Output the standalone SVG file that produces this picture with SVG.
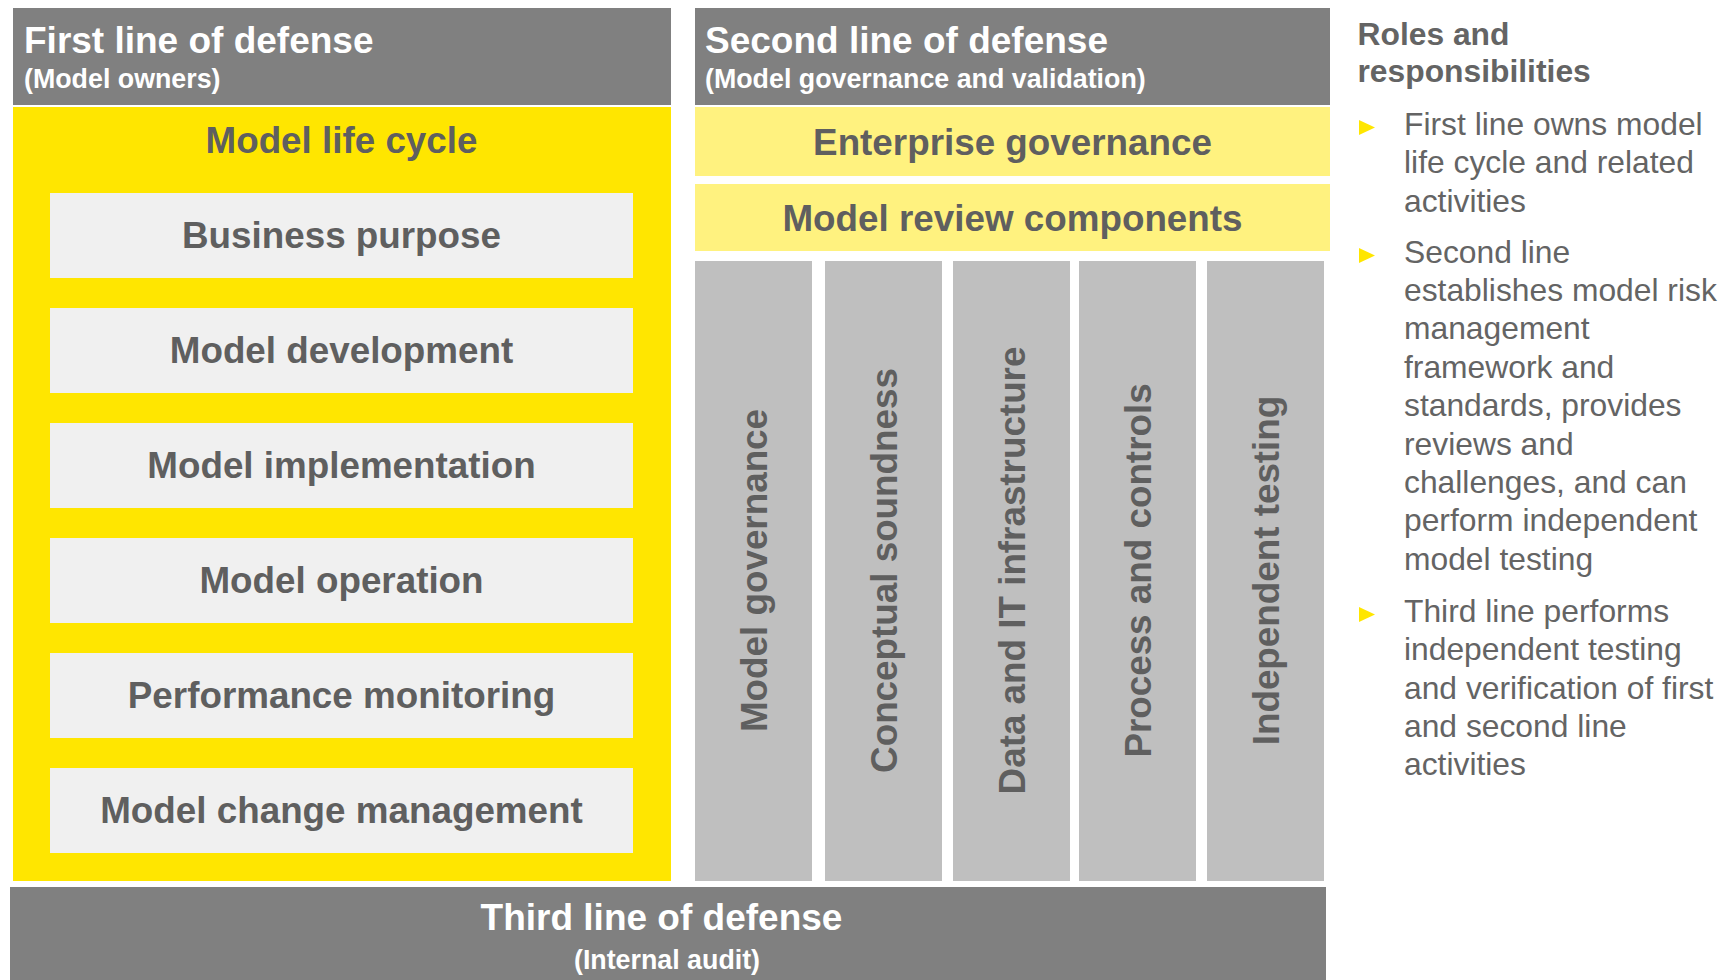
<svg xmlns="http://www.w3.org/2000/svg" width="1732" height="980" viewBox="0 0 1732 980">
<style>
.hdr{fill:#808080}
.ht{font-family:"Liberation Sans",Arial,sans-serif;font-weight:bold;fill:#ffffff}
.h1{font-size:37px}
.h2{font-size:26.8px}
.lbl{font-family:"Liberation Sans",Arial,sans-serif;font-weight:bold;font-size:36.8px;fill:#5f5f5f;text-anchor:middle}
.box{fill:#F0F0F0}
.col{fill:#BFBFBF}
.ly{fill:#FFF27F}
.yel{fill:#FFE600}
.side{font-family:"Liberation Sans",Arial,sans-serif;font-size:31.8px;fill:#646464}
.sideh{font-family:"Liberation Sans",Arial,sans-serif;font-size:31.8px;font-weight:bold;fill:#646464}
.tri{fill:#FFE600}
</style>
<rect width="1732" height="980" fill="#ffffff"/>
<g id="first-line">
  <rect class="hdr" x="13" y="8" width="658" height="97"/>
  <text class="ht h1" x="24" y="53">First line of defense</text>
  <text class="ht h2" x="24" y="88">(Model owners)</text>
</g>
<g id="model-life-cycle">
  <rect class="yel" x="13" y="107" width="658" height="774"/>
  <text class="lbl" x="341.5" y="153">Model life cycle</text>
</g>
<g id="business-purpose">
  <rect class="box" x="50" y="193" width="583" height="85"/>
  <text class="lbl" x="341.5" y="248">Business purpose</text>
</g>
<g id="model-development">
  <rect class="box" x="50" y="308" width="583" height="85"/>
  <text class="lbl" x="341.5" y="363">Model development</text>
</g>
<g id="model-implementation">
  <rect class="box" x="50" y="423" width="583" height="85"/>
  <text class="lbl" x="341.5" y="478">Model implementation</text>
</g>
<g id="model-operation">
  <rect class="box" x="50" y="538" width="583" height="85"/>
  <text class="lbl" x="341.5" y="593">Model operation</text>
</g>
<g id="performance-monitoring">
  <rect class="box" x="50" y="653" width="583" height="85"/>
  <text class="lbl" x="341.5" y="708">Performance monitoring</text>
</g>
<g id="model-change-management">
  <rect class="box" x="50" y="768" width="583" height="85"/>
  <text class="lbl" x="341.5" y="823">Model change management</text>
</g>
<g id="second-line">
  <rect class="hdr" x="695" y="8" width="635" height="97"/>
  <text class="ht h1" x="705" y="53">Second line of defense</text>
  <text class="ht h2" x="705" y="88">(Model governance and validation)</text>
</g>
<g id="enterprise-governance">
  <rect class="ly" x="695" y="107" width="635" height="69"/>
  <text class="lbl" x="1012.5" y="155">Enterprise governance</text>
</g>
<g id="model-review-components">
  <rect class="ly" x="695" y="184" width="635" height="67"/>
  <text class="lbl" x="1012.5" y="231">Model review components</text>
</g>
<g id="col-model-governance">
  <rect class="col" x="695" y="261" width="117" height="620"/>
  <text class="lbl" transform="translate(766.5,570.5) rotate(-90)">Model governance</text>
</g>
<g id="col-conceptual-soundness">
  <rect class="col" x="825" y="261" width="117" height="620"/>
  <text class="lbl" transform="translate(896.5,570.5) rotate(-90)">Conceptual soundness</text>
</g>
<g id="col-data-it">
  <rect class="col" x="953" y="261" width="117" height="620"/>
  <text class="lbl" transform="translate(1024.5,570.5) rotate(-90)">Data and IT infrastructure</text>
</g>
<g id="col-process-controls">
  <rect class="col" x="1079" y="261" width="117" height="620"/>
  <text class="lbl" transform="translate(1150.5,570.5) rotate(-90)">Process and controls</text>
</g>
<g id="col-independent-testing">
  <rect class="col" x="1207" y="261" width="117" height="620"/>
  <text class="lbl" transform="translate(1278.5,570.5) rotate(-90)">Independent testing</text>
</g>
<g id="third-line">
  <rect class="hdr" x="10" y="887" width="1316" height="93"/>
  <text class="ht h1" x="661.5" y="930" text-anchor="middle">Third line of defense</text>
  <text class="ht h2" x="667" y="969" text-anchor="middle">(Internal audit)</text>
</g>
<g id="roles">
  <text class="sideh" x="1357.5" y="45">Roles and</text>
  <text class="sideh" x="1357.5" y="82">responsibilities</text>
  <polygon class="tri" points="1359,120 1375,127.5 1359,135"/>
  <text class="side" x="1404" y="135">First line owns model</text>
  <text class="side" x="1404" y="173.4">life cycle and related</text>
  <text class="side" x="1404" y="211.8">activities</text>
  <polygon class="tri" points="1359,248 1375,255.5 1359,263"/>
  <text class="side" x="1404" y="262.5">Second line</text>
  <text class="side" x="1404" y="300.9">establishes model risk</text>
  <text class="side" x="1404" y="339.3">management</text>
  <text class="side" x="1404" y="377.7">framework and</text>
  <text class="side" x="1404" y="416.1">standards, provides</text>
  <text class="side" x="1404" y="454.5">reviews and</text>
  <text class="side" x="1404" y="492.9">challenges, and can</text>
  <text class="side" x="1404" y="531.3">perform independent</text>
  <text class="side" x="1404" y="569.7">model testing</text>
  <polygon class="tri" points="1359,607 1375,614.5 1359,622"/>
  <text class="side" x="1404" y="621.7">Third line performs</text>
  <text class="side" x="1404" y="660.1">independent testing</text>
  <text class="side" x="1404" y="698.5">and verification of first</text>
  <text class="side" x="1404" y="736.9">and second line</text>
  <text class="side" x="1404" y="775.3">activities</text>
</g>
<g id="connectors"/>
</svg>
